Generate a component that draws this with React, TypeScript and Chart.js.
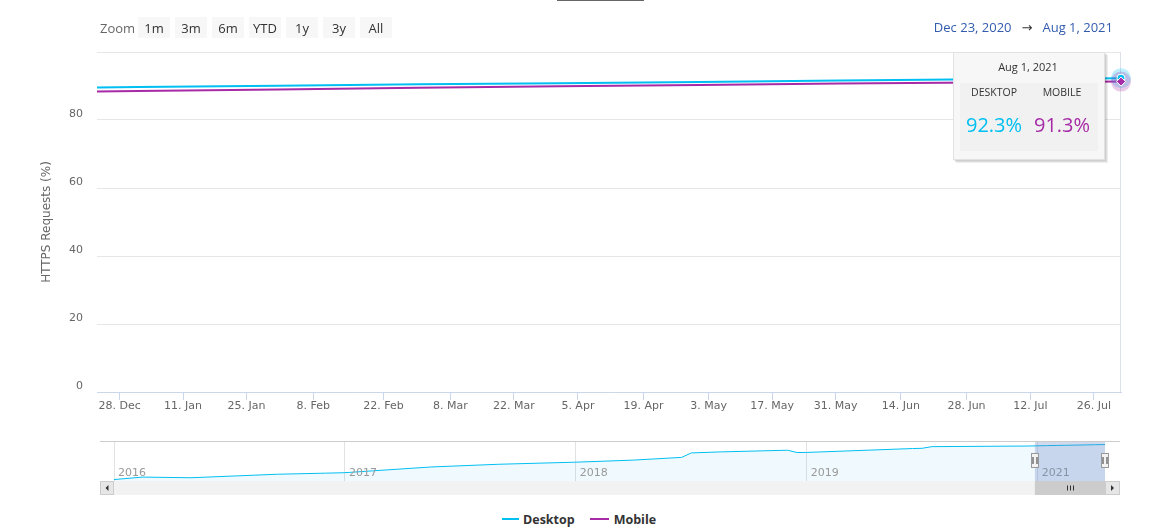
import React, { useEffect, useRef } from 'react';
import { Chart, registerables } from 'chart.js';

Chart.register(...registerables);

// ---------- data ----------
const monthDates = ['2020-12-01', '2021-01-01', '2021-02-01', '2021-03-01', '2021-04-01', '2021-05-01', '2021-06-01', '2021-07-01', '2021-08-01'];
const desktopValues = [89.3, 89.7, 90.1, 90.5, 90.8, 91.2, 91.6, 92.0, 92.3];
const mobileValues = [88.2, 88.5, 89.0, 89.5, 89.9, 90.3, 90.7, 91.0, 91.3];

const rangeStart = '2020-12-23';
const rangeEnd = '2021-08-01';

const xTickDates = ['2020-12-28', '2021-01-11', '2021-01-25', '2021-02-08', '2021-02-22', '2021-03-08', '2021-03-22', '2021-04-05', '2021-04-19', '2021-05-03', '2021-05-17', '2021-05-31', '2021-06-14', '2021-06-28', '2021-07-12', '2021-07-26'];
const xTickLabels = ['28. Dec', '11. Jan', '25. Jan', '8. Feb', '22. Feb', '8. Mar', '22. Mar', '5. Apr', '19. Apr', '3. May', '17. May', '31. May', '14. Jun', '28. Jun', '12. Jul', '26. Jul'];
const yTicks = [0, 20, 40, 60, 80, 100];

const navHistoryDates = ['2016-01-01', '2016-02-15', '2016-05-01', '2016-09-15', '2016-12-01', '2017-01-01', '2017-05-15', '2017-09-01', '2018-01-01', '2018-04-01', '2018-06-15', '2018-07-01', '2018-08-15', '2018-12-01', '2018-12-15', '2019-01-01', '2019-12-01', '2020-01-01', '2020-02-01'];
const navHistoryDesktop = [20.0, 25.1, 23.7, 31.0, 33.2, 34.2, 46.0, 51.6, 55.9, 60.2, 65.8, 75.0, 77.1, 80.6, 75.9, 76.0, 84.1, 84.6, 88.0];
const navYearDates = ['2016-01-01', '2017-01-01', '2018-01-01', '2019-01-01', '2021-01-01'];
const navYearLabels = ['2016', '2017', '2018', '2019', '2021'];

const zoomButtons = ['1m', '3m', '6m', 'YTD', '1y', '3y', 'All'];
const seriesNames = ['Desktop', 'Mobile'];

const DESKTOP = '#00bff2';
const MOBILE = '#a72ba6';
const MONTHS = ['Jan', 'Feb', 'Mar', 'Apr', 'May', 'Jun', 'Jul', 'Aug', 'Sep', 'Oct', 'Nov', 'Dec'];

// ---------- helpers ----------
const toTime = (s: string) => Date.UTC(+s.slice(0, 4), +s.slice(5, 7) - 1, +s.slice(8, 10));
const fmtDate = (s: string) => `${MONTHS[+s.slice(5, 7) - 1]} ${+s.slice(8, 10)}, ${s.slice(0, 4)}`;

function ordinalPos(points: number[], t: number) {
  for (let i = 0; i < points.length - 1; i++) {
    if (t >= points[i] && t <= points[i + 1]) return i + (t - points[i]) / (points[i + 1] - points[i]);
  }
  return t < points[0] ? 0 : points.length - 1;
}

const mainTimes = monthDates.map(toTime);
const mainPos = (d: string) => ordinalPos(mainTimes, toTime(d));

// crawl calendar: semi-monthly until 2018, monthly afterwards
const crawlSchedule: number[] = [];
for (let y = 2016; y <= 2018; y++) for (let m = 0; m < 12; m++) { crawlSchedule.push(Date.UTC(y, m, 1)); crawlSchedule.push(Date.UTC(y, m, 15)); }
for (let y = 2019; y <= 2021; y++) for (let m = 0; m < 12; m++) { if (y === 2021 && m > 7) break; crawlSchedule.push(Date.UTC(y, m, 1)); }
const navPos = (d: string) => ordinalPos(crawlSchedule, toTime(d));

const AXIS_FONT = '"DejaVu Sans", sans-serif';
const UI_FONT = '"Open Sans", "DejaVu Sans", sans-serif';

const mainPlugin = {
  id: 'mainDecor',
  afterDraw(chart: any) {
    const { ctx, chartArea: a } = chart;
    ctx.save();
    // right plot border
    ctx.strokeStyle = '#dde2ea';
    ctx.lineWidth = 1;
    ctx.beginPath();
    ctx.moveTo(Math.round(a.right) - 0.5, a.top);
    ctx.lineTo(Math.round(a.right) - 0.5, a.bottom);
    ctx.stroke();

    const dm = chart.getDatasetMeta(0);
    const mm = chart.getDatasetMeta(1);
    const dp = dm.data[dm.data.length - 1];
    const mp = mm.data[mm.data.length - 1];

    // halos
    ctx.fillStyle = 'rgba(0,191,242,0.25)';
    ctx.beginPath(); ctx.arc(dp.x, dp.y, 10, 0, Math.PI * 2); ctx.fill();
    ctx.fillStyle = 'rgba(167,43,166,0.25)';
    ctx.beginPath(); ctx.arc(mp.x, mp.y, 10, 0, Math.PI * 2); ctx.fill();
    // markers
    ctx.fillStyle = DESKTOP; ctx.strokeStyle = '#ffffff'; ctx.lineWidth = 1;
    ctx.beginPath(); ctx.arc(dp.x, dp.y, 4, 0, Math.PI * 2); ctx.fill(); ctx.stroke();
    ctx.fillStyle = MOBILE;
    ctx.beginPath();
    ctx.moveTo(mp.x, mp.y - 4.5); ctx.lineTo(mp.x + 4.5, mp.y); ctx.lineTo(mp.x, mp.y + 4.5); ctx.lineTo(mp.x - 4.5, mp.y); ctx.closePath();
    ctx.fill(); ctx.stroke();

    // tooltip
    const w = 152, h = 108;
    const x0 = Math.round(dp.x - 168), y0 = Math.round(a.top);
    for (let i = 1; i <= 3; i++) {
      ctx.fillStyle = 'rgba(0,0,0,0.07)';
      ctx.fillRect(x0 + i, y0 + i, w, h);
    }
    ctx.fillStyle = '#f7f7f7';
    ctx.fillRect(x0, y0, w, h);
    ctx.strokeStyle = '#e2e2e2';
    ctx.strokeRect(x0 + 0.5, y0 + 0.5, w - 1, h - 1);
    ctx.fillStyle = '#f1f1f1';
    ctx.fillRect(x0 + 7, y0 + 31, w - 14, h - 40);

    ctx.textAlign = 'center';
    ctx.textBaseline = 'middle';
    ctx.fillStyle = '#333333';
    ctx.font = `11px ${UI_FONT}`;
    ctx.fillText(fmtDate(monthDates[monthDates.length - 1]), x0 + w / 2 - 1, y0 + 15.5);
    ctx.font = `10.5px ${UI_FONT}`;
    ctx.fillText(seriesNames[0].toUpperCase(), x0 + 41, y0 + 41);
    ctx.fillText(seriesNames[1].toUpperCase(), x0 + 109, y0 + 41);
    ctx.font = `20px ${UI_FONT}`;
    ctx.fillStyle = DESKTOP;
    ctx.fillText(`${desktopValues[desktopValues.length - 1]}%`, x0 + 41, y0 + 74);
    ctx.fillStyle = MOBILE;
    ctx.fillText(`${mobileValues[mobileValues.length - 1]}%`, x0 + 109, y0 + 74);
    ctx.restore();
  },
};

const navPlugin = {
  id: 'navDecor',
  afterDraw(chart: any) {
    const { ctx, chartArea: a, scales } = chart;
    const x = scales.x;
    ctx.save();
    // year labels
    ctx.font = `11px ${AXIS_FONT}`;
    ctx.fillStyle = '#999999';
    ctx.textAlign = 'left';
    ctx.textBaseline = 'middle';
    navYearDates.forEach((d, i) => ctx.fillText(navYearLabels[i], x.getPixelForValue(navPos(d)) + 4, a.bottom - 8));

    const s = x.getPixelForValue(navPos(rangeStart));
    const e = x.getPixelForValue(navPos(rangeEnd));
    // mask
    ctx.fillStyle = 'rgba(102,133,194,0.3)';
    ctx.fillRect(s, a.top, e - s, a.bottom - a.top);

    const left = a.left - 14, right = a.right + 15;
    // outline
    ctx.strokeStyle = '#cccccc';
    ctx.lineWidth = 1;
    ctx.beginPath();
    ctx.moveTo(left, a.top - 0.5);
    ctx.lineTo(right, a.top - 0.5);
    ctx.stroke();

    // scrollbar
    const sy = a.bottom, sh = 14;
    ctx.fillStyle = '#f2f2f2';
    ctx.fillRect(left, sy, right - left, sh);
    ctx.fillStyle = '#cccccc';
    ctx.fillRect(s, sy, e - s, sh);
    ctx.strokeStyle = '#333333';
    const cx = Math.round((s + e) / 2);
    for (let k = -1; k <= 1; k++) {
      ctx.beginPath();
      ctx.moveTo(cx + k * 3 + 0.5, sy + 4.5);
      ctx.lineTo(cx + k * 3 + 0.5, sy + 9.5);
      ctx.stroke();
    }
    // buttons
    const drawBtn = (bx: number, bw: number, dir: number) => {
      ctx.fillStyle = '#e6e6e6';
      ctx.fillRect(bx, sy, bw, sh);
      ctx.strokeStyle = '#cccccc';
      ctx.strokeRect(bx + 0.5, sy + 0.5, bw - 1, sh - 1);
      ctx.fillStyle = '#333333';
      const mx = bx + bw / 2, my = sy + sh / 2;
      ctx.beginPath();
      ctx.moveTo(mx + dir * 1.5, my - 3);
      ctx.lineTo(mx + dir * 1.5, my + 3);
      ctx.lineTo(mx - dir * 1.5, my);
      ctx.closePath();
      ctx.fill();
    };
    drawBtn(left, 14, 1);
    drawBtn(a.right, right - a.right, -1);

    // handles
    [s, e].forEach((hx) => {
      const hxr = Math.round(hx);
      const hy = a.top + 11;
      ctx.fillStyle = '#f2f2f2';
      ctx.fillRect(hxr - 4, hy, 8, 15);
      ctx.strokeStyle = '#999999';
      ctx.strokeRect(hxr - 3.5, hy + 0.5, 7, 14);
      ctx.strokeStyle = '#333333';
      [-1, 1].forEach((o) => {
        ctx.beginPath();
        ctx.moveTo(hxr + o * 1.5 - 0.5 + (o > 0 ? 1 : 0), hy + 4);
        ctx.lineTo(hxr + o * 1.5 - 0.5 + (o > 0 ? 1 : 0), hy + 11);
        ctx.stroke();
      });
    });
    ctx.restore();
  },
};

export default function App() {
  const mainRef = useRef<HTMLCanvasElement>(null);
  const navRef = useRef<HTMLCanvasElement>(null);

  useEffect(() => {
    const main = new Chart(mainRef.current as HTMLCanvasElement, {
      type: 'line',
      data: {
        datasets: [
          {
            label: seriesNames[0],
            data: monthDates.map((d, i) => ({ x: mainPos(d), y: desktopValues[i] })),
            borderColor: DESKTOP,
            borderWidth: 2,
            pointRadius: 0,
            tension: 0,
            fill: false,
          },
          {
            label: seriesNames[1],
            data: monthDates.map((d, i) => ({ x: mainPos(d), y: mobileValues[i] })),
            borderColor: MOBILE,
            borderWidth: 2,
            pointRadius: 0,
            tension: 0,
            fill: false,
          },
        ],
      },
      options: {
        responsive: false,
        animation: false,
        devicePixelRatio: 1,
        events: [],
        layout: { padding: { top: 52, right: 42, left: 0, bottom: 0 } },
        plugins: { legend: { display: false }, tooltip: { enabled: false } },
        scales: {
          x: {
            type: 'linear',
            min: mainPos(rangeStart),
            max: mainPos(rangeEnd),
            afterBuildTicks: (s: any) => { s.ticks = xTickDates.map((d) => ({ value: mainPos(d) })); },
            afterFit: (s: any) => { s.height = 28; },
            ticks: {
              autoSkip: false,
              maxRotation: 0,
              padding: 0,
              color: '#666666',
              font: { family: AXIS_FONT, size: 11 },
              callback: (_v: any, i: number) => xTickLabels[i],
            },
            grid: { drawOnChartArea: false, drawTicks: true, tickLength: 8, color: '#ccd6eb' },
            border: { color: '#ccd6eb' },
          },
          y: {
            min: 0,
            max: 100,
            afterBuildTicks: (s: any) => { s.ticks = yTicks.map((v) => ({ value: v })); },
            afterFit: (s: any) => { s.width = 97; },
            ticks: {
              padding: 14,
              labelOffset: -6,
              color: '#666666',
              font: { family: AXIS_FONT, size: 11 },
              callback: (v: any) => (v === 100 ? '' : String(v)),
            },
            grid: { color: '#e6e6e6', drawTicks: false },
            border: { display: false },
            title: {
              display: true,
              text: 'HTTPS Requests (%)',
              color: '#666666',
              font: { family: AXIS_FONT, size: 12 },
              padding: { top: 40, bottom: 0 },
            },
          },
        },
      } as any,
      plugins: [mainPlugin],
    });

    const navDates = [...navHistoryDates, ...monthDates];
    const navValues = [...navHistoryDesktop, ...desktopValues];
    const nav = new Chart(navRef.current as HTMLCanvasElement, {
      type: 'line',
      data: {
        datasets: [
          {
            data: navDates.map((d, i) => ({ x: navPos(d), y: navValues[i] })),
            borderColor: DESKTOP,
            borderWidth: 1,
            pointRadius: 0,
            tension: 0,
            fill: 'start',
            backgroundColor: 'rgba(0,175,235,0.06)',
          },
        ],
      },
      options: {
        responsive: false,
        animation: false,
        devicePixelRatio: 1,
        events: [],
        layout: { padding: { top: 12, right: 58, left: 114, bottom: 19 } },
        plugins: { legend: { display: false }, tooltip: { enabled: false } },
        scales: {
          x: {
            type: 'linear',
            min: 0,
            max: crawlSchedule.length - 1,
            afterBuildTicks: (s: any) => { s.ticks = navYearDates.map((d) => ({ value: navPos(d) })); },
            afterFit: (s: any) => { s.height = 0; },
            ticks: { display: false },
            grid: { color: '#e2e2e2', drawTicks: false },
            border: { display: false },
          },
          y: { display: false, min: 17, max: 97.6 },
        },
      } as any,
      plugins: [navPlugin],
    });

    return () => {
      main.destroy();
      nav.destroy();
    };
  }, []);

  return (
    <div style={{ position: 'absolute', left: 0, top: 0, width: 1163, height: 528, background: '#ffffff', overflow: 'hidden', fontFamily: UI_FONT }}>
      <div style={{ position: 'absolute', left: 557, top: 0, width: 87, height: 1, background: '#666666' }} />
      <canvas ref={mainRef} width={1163} height={420} style={{ position: 'absolute', left: 0, top: 0, width: 1163, height: 420 }} />
      <canvas ref={navRef} width={1163} height={70} style={{ position: 'absolute', left: 0, top: 430, width: 1163, height: 70 }} />

      <div style={{ position: 'absolute', left: 100, top: 18, height: 21, lineHeight: '21px', fontSize: 13, color: '#666666' }}>Zoom</div>
      {zoomButtons.map((b, i) => (
        <div
          key={b}
          style={{
            position: 'absolute', left: 138 + i * 37, top: 17, width: 32, height: 21, lineHeight: '22px',
            textAlign: 'center', fontSize: 13, color: '#333333', background: '#f7f7f7',
          }}
        >
          {b}
        </div>
      ))}

      <div style={{ position: 'absolute', right: 50, top: 17, height: 21, lineHeight: '21px', fontSize: 13, color: '#335cad', whiteSpace: 'nowrap' }}>
        <span>{fmtDate(rangeStart)}</span>
        <span style={{ margin: '0 10px', color: '#333333' }}>→</span>
        <span>{fmtDate(rangeEnd)}</span>
      </div>

      <div style={{ position: 'absolute', left: 502, top: 509, height: 20, display: 'flex', alignItems: 'center', fontSize: 12.5, fontWeight: 700, color: '#333333', whiteSpace: 'nowrap' }}>
        <span style={{ display: 'inline-block', width: 17, height: 2, background: DESKTOP, marginRight: 4 }} />
        <span>{seriesNames[0]}</span>
        <span style={{ display: 'inline-block', width: 19, height: 2, background: MOBILE, marginLeft: 15, marginRight: 5 }} />
        <span>{seriesNames[1]}</span>
      </div>
    </div>
  );
}
